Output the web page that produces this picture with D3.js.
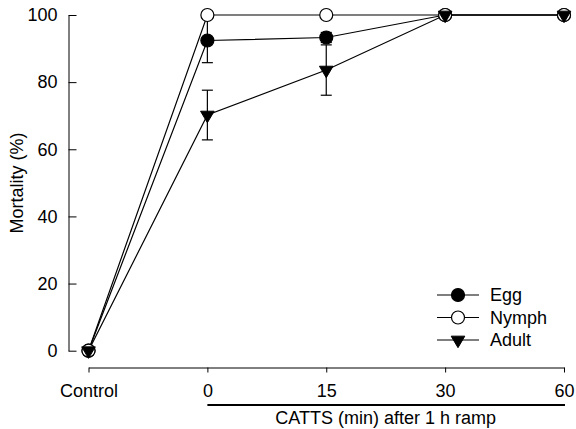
<!DOCTYPE html>
<html>
<head>
<meta charset="utf-8">
<script src="https://cdn.jsdelivr.net/npm/d3@7"></script>
<style>
  body { margin: 0; background: #fff; }
  text { font-family: "Liberation Sans", Arial, sans-serif; }
</style>
</head>
<body>
<div id="chart"></div>
<script>
// categories and series
const categories = ["Control", "0", "15", "30", "60"];
const yTicks = [0, 20, 40, 60, 80, 100];

const egg = [0, 92.4, 93.3, 100, 100];
const eggErr = [0, 6.6, 1.5, 0, 0];
const nymph = [0, 100, 100, 100, 100];
const nymphErr = [0, 0, 0, 0, 0];
const adult = [0, 70.2, 83.6, 100, 100];
const adultErr = [0, 7.4, 7.5, 0, 0];

const width = 576;
const height = 429;

const svg = d3.select("#chart")
    .append("svg")
    .attr("width", width)
    .attr("height", height);

// scales
const x = d3.scalePoint()
    .domain(categories)
    .range([88.5, 564]);

const y = d3.scaleLinear()
    .domain([0, 100])
    .range([350.7, 15]);

// y axis (ticks point inwards)
const yAxis = svg.append("g")
    .attr("transform", "translate(68.5,0)")
    .call(d3.axisLeft(y).tickValues(yTicks).tickSizeInner(-8).tickSizeOuter(0).tickPadding(11));

yAxis.select(".domain").attr("stroke", "#000");
yAxis.selectAll(".tick line").attr("stroke", "#000");
yAxis.selectAll("text")
    .attr("x", -11)
    .attr("text-anchor", "end")
    .style("font-size", "18px")
    .style("font-family", "Liberation Sans, Arial, sans-serif")
    .attr("fill", "#000");

// x axis
const xAxis = svg.append("g")
    .attr("transform", "translate(0,367.5)")
    .call(d3.axisBottom(x).tickSizeInner(5).tickSizeOuter(0).tickPadding(11.5));

xAxis.select(".domain").attr("stroke", "#000");
xAxis.selectAll(".tick line").attr("stroke", "#000");
xAxis.selectAll("text")
    .style("font-size", "18px")
    .style("font-family", "Liberation Sans, Arial, sans-serif")
    .attr("fill", "#000");

// bracket under the treatment ticks
svg.append("line")
    .attr("x1", x("0"))
    .attr("x2", x("60") + 1)
    .attr("y1", 405)
    .attr("y2", 405)
    .attr("stroke", "#000")
    .attr("stroke-width", 2);

svg.append("text")
    .attr("x", (x("0") + x("60")) / 2)
    .attr("y", 424)
    .attr("text-anchor", "middle")
    .style("font-size", "18px")
    .text("CATTS (min) after 1 h ramp");

svg.append("text")
    .attr("transform", "rotate(-90)")
    .attr("x", -183)
    .attr("y", 17)
    .attr("dy", "0.35em")
    .attr("text-anchor", "middle")
    .style("font-size", "18px")
    .text("Mortality (%)");

// series
const series = [
    { name: "Egg", values: egg, err: eggErr, shape: "circle", fill: "#000" },
    { name: "Nymph", values: nymph, err: nymphErr, shape: "circle", fill: "#fff" },
    { name: "Adult", values: adult, err: adultErr, shape: "triangle", fill: "#000" }
];

const line = d3.line()
    .x((d, i) => x(categories[i]))
    .y(d => y(d));

// lines
svg.append("g")
    .selectAll("path")
    .data(series)
    .enter()
    .append("path")
    .attr("d", s => line(s.values))
    .attr("fill", "none")
    .attr("stroke", "#000")
    .attr("stroke-width", 1.2);

// error bars
const capW = 5.5;
series.forEach(s => {
    const bars = s.values.map((v, i) => ({ cx: x(categories[i]), v: v, e: s.err[i] }))
        .filter(d => d.e > 0);
    const g = svg.append("g").attr("stroke", "#000").attr("stroke-width", 1.2);
    bars.forEach(d => {
        g.append("line")
            .attr("x1", d.cx).attr("x2", d.cx)
            .attr("y1", y(d.v - d.e)).attr("y2", y(d.v + d.e));
        g.append("line")
            .attr("x1", d.cx - capW).attr("x2", d.cx + capW)
            .attr("y1", y(d.v - d.e)).attr("y2", y(d.v - d.e));
        g.append("line")
            .attr("x1", d.cx - capW).attr("x2", d.cx + capW)
            .attr("y1", y(d.v + d.e)).attr("y2", y(d.v + d.e));
    });
});

function trianglePath(cx, cy) {
    const w = 6.8, h = 11.5;
    return `M${cx - w},${cy - h / 3}L${cx + w},${cy - h / 3}L${cx},${cy + 2 * h / 3}Z`;
}

function drawMarker(g, s, cx, cy) {
    if (s.shape === "circle") {
        g.append("circle")
            .attr("cx", cx)
            .attr("cy", cy)
            .attr("r", 6.5)
            .attr("fill", s.fill)
            .attr("stroke", "#000")
            .attr("stroke-width", 1.2);
    } else {
        g.append("path")
            .attr("d", trianglePath(cx, cy))
            .attr("fill", s.fill)
            .attr("stroke", "#000")
            .attr("stroke-width", 1);
    }
}

// markers
series.forEach(s => {
    const g = svg.append("g");
    s.values.forEach((v, i) => drawMarker(g, s, x(categories[i]), y(v)));
});

// legend
const legend = svg.append("g")
    .attr("transform", "translate(437,295)");

series.forEach((s, i) => {
    const item = legend.append("g")
        .attr("transform", `translate(0, ${i * 22.5})`);
    item.append("line")
        .attr("x1", 0).attr("x2", 42)
        .attr("y1", 0).attr("y2", 0)
        .attr("stroke", "#000")
        .attr("stroke-width", 1.2);
    drawMarker(item, s, 21, 0);
    item.append("text")
        .attr("x", 53)
        .attr("y", 0)
        .attr("dy", "0.35em")
        .style("font-size", "18px")
        .text(s.name);
});
</script>
</body>
</html>
